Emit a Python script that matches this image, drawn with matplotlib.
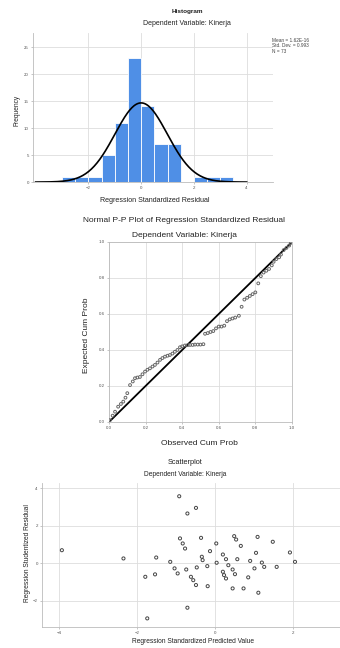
import numpy as np
import matplotlib
matplotlib.use('Agg')
import matplotlib.pyplot as plt

plt.rcParams['font.family'] = ['Liberation Sans', 'DejaVu Sans']

# histogram of standardized residuals (bin width 0.5)
bin_left = [-3.0, -2.5, -2.0, -1.5, -1.0, -0.5, 0.0, 0.5, 1.0, 1.5, 2.0, 2.5, 3.0]
bin_count = [1, 1, 1, 5, 11, 23, 14, 7, 7, 0, 1, 1, 1]
bin_width = 0.5
resid_mean = 0.0
resid_sd = 0.993

# normal P-P plot
pp_observed = [0.005, 0.02, 0.033, 0.05, 0.065, 0.078, 0.09, 0.10, 0.115, 0.13, 0.142, 0.155,
               0.169, 0.183, 0.197, 0.21, 0.224, 0.238, 0.251, 0.265, 0.279, 0.292, 0.306,
               0.32, 0.333, 0.347, 0.36, 0.374, 0.388, 0.40, 0.415, 0.43, 0.443, 0.457,
               0.47, 0.485, 0.50, 0.516, 0.525, 0.54, 0.555, 0.57, 0.585, 0.60, 0.615,
               0.63, 0.645, 0.66, 0.675, 0.69, 0.71, 0.725, 0.74, 0.755, 0.77, 0.785,
               0.80, 0.816, 0.83, 0.845, 0.86, 0.875, 0.89, 0.90, 0.915, 0.93, 0.94,
               0.955, 0.97, 0.985, 0.995]
pp_expected = [0.01, 0.035, 0.057, 0.085, 0.10, 0.113, 0.135, 0.16, 0.205, 0.225, 0.243, 0.247,
               0.25, 0.265, 0.28, 0.29, 0.298, 0.308, 0.317, 0.33, 0.345, 0.355, 0.363,
               0.368, 0.372, 0.38, 0.39, 0.40, 0.415, 0.42, 0.425, 0.427, 0.428, 0.428,
               0.43, 0.43, 0.43, 0.432, 0.49, 0.494, 0.50, 0.505, 0.52, 0.53, 0.53,
               0.535, 0.56, 0.57, 0.575, 0.58, 0.59, 0.64, 0.68, 0.69, 0.70, 0.71,
               0.72, 0.77, 0.81, 0.83, 0.84, 0.85, 0.87, 0.89, 0.905, 0.915, 0.93,
               0.955, 0.967, 0.98, 0.995]

# scatterplot: standardized predicted vs studentized residual
pred = [-3.93, -2.35, -0.92, -0.49, -0.71, -0.90, -0.36, -0.83, -0.77, -0.13, 0.03,
        -1.51, -1.15, -0.34, -0.32, -0.20, 0.04, -0.47, -0.74, -1.04, -0.96, -1.54,
        -1.79, -0.62, -0.56, -0.49, -0.19, -0.71, -1.74,
        0.49, 1.09, 0.54, 0.66, 1.48, 0.20, 1.05, 1.92, 0.28, 0.57, 0.90, 1.20, 2.05,
        0.34, 0.45, 1.01, 1.26, 1.58, 0.20, 0.23, 0.51, 0.28, 0.85, 0.45, 0.73, 1.11]
resid = [0.69, 0.25, 3.57, 2.95, 2.65, 1.32, 1.35, 1.05, 0.78, 0.64, 1.05,
         0.30, 0.07, 0.34, 0.16, -0.16, 0.02, -0.23, -0.34, -0.28, -0.55, -0.60,
         -0.73, -0.73, -0.91, -1.17, -1.23, -2.38, -2.95,
         1.44, 1.40, 1.26, 0.92, 1.14, 0.46, 0.55, 0.57, 0.21, 0.21, 0.12, 0.03, 0.07,
         -0.11, -0.34, -0.28, -0.20, -0.20, -0.46, -0.64, -0.59, -0.82, -0.76, -1.35,
         -1.35, -1.58]

grid_c = '#dddddd'
txt = '#222222'
tick_fs = 3.2


def style(ax):
    for s in ax.spines.values():
        s.set_color('#bbbbbb')
        s.set_linewidth(0.6)
    ax.tick_params(labelsize=tick_fs, length=1.5, width=0.4, colors='#999999',
                   labelcolor='#555555', pad=1.5)
    ax.grid(True, color=grid_c, linewidth=0.6)
    ax.set_axisbelow(True)


fig = plt.figure(figsize=(3.4, 6.48), dpi=100)

# ---- histogram
ax1 = fig.add_axes([0.097, 0.719, 0.706, 0.230])
ax1.bar(bin_left, bin_count, width=bin_width, align='edge', color='#4F8FE6',
        edgecolor='white', linewidth=0.6)
n_total = sum(bin_count)
xs = np.linspace(-4.0, 4.0, 300)
curve = n_total * bin_width / (resid_sd * np.sqrt(2 * np.pi)) * np.exp(-0.5 * ((xs - resid_mean) / resid_sd) ** 2)
ax1.plot(xs, curve, color='black', linewidth=1.2)
ax1.set_xlim(-4.1, 5.0)
ax1.set_ylim(0, 27.6)
ax1.set_xticks([-2, 0, 2, 4])
ax1.set_yticks([0, 5, 10, 15, 20, 25])
style(ax1)
for s in ['top', 'right']:
    ax1.spines[s].set_visible(False)

fig.text(0.55, 0.9815, 'Histogram', ha='center', va='center', fontsize=4.6,
         fontweight='bold', color=txt)
fig.text(0.55, 0.963, 'Dependent Variable: Kinerja', ha='center', va='center',
         fontsize=5.0, color=txt)
fig.text(0.456, 0.691, 'Regression Standardized Residual', ha='center', va='center',
         fontsize=5.1, color=txt)
fig.text(0.05, 0.83, 'Frequency', ha='center', va='center', rotation=90,
         fontsize=4.8, color=txt)
fig.text(0.80, 0.942, 'Mean = 1.62E-16\nStd. Dev. = 0.993\nN = %d' % n_total,
         ha='left', va='top', fontsize=3.4, color='#444444', linespacing=1.15)

# ---- P-P plot
ax2 = fig.add_axes([0.3206, 0.3488, 0.538, 0.2778])
ax2.plot([0, 1], [0, 1], color='black', linewidth=1.3, zorder=2)
ax2.scatter(pp_observed, pp_expected, s=4, facecolors='none', edgecolors='#666666',
            linewidths=0.7, zorder=3)
ax2.set_xlim(0, 1)
ax2.set_ylim(0, 1)
ticks = [0.0, 0.2, 0.4, 0.6, 0.8, 1.0]
ax2.set_xticks(ticks)
ax2.set_yticks(ticks)
ax2.set_xticklabels(['%.1f' % t for t in ticks])
ax2.set_yticklabels(['%.1f' % t for t in ticks])
style(ax2)

fig.text(0.541, 0.660, 'Normal P-P Plot of Regression Standardized Residual',
         ha='center', va='center', fontsize=6.0, color=txt)
fig.text(0.541, 0.636, 'Dependent Variable: Kinerja', ha='center', va='center',
         fontsize=6.0, color=txt)
fig.text(0.588, 0.316, 'Observed Cum Prob', ha='center', va='center',
         fontsize=6.0, color=txt)
fig.text(0.253, 0.483, 'Expected Cum Prob', ha='center', va='center', rotation=90,
         fontsize=6.0, color=txt)

# ---- scatterplot
ax3 = fig.add_axes([0.1235, 0.0324, 0.876, 0.222])
ax3.scatter(pred, resid, s=5, facecolors='none', edgecolors='#444444', linewidths=0.7)
ax3.set_xlim(-4.44, 3.2)
ax3.set_ylim(-3.41, 4.27)
ax3.set_xticks([-4, -2, 0, 2])
ax3.set_yticks([-2, 0, 2, 4])
style(ax3)
for s in ['top', 'right']:
    ax3.spines[s].set_visible(False)

fig.text(0.544, 0.2855, 'Scatterplot', ha='center', va='center', fontsize=5.3,
         color=txt)
fig.text(0.544, 0.2685, 'Dependent Variable: Kinerja', ha='center', va='center',
         fontsize=4.8, color=txt)
fig.text(0.568, 0.010, 'Regression Standardized Predicted Value', ha='center',
         va='center', fontsize=4.8, color=txt)
fig.text(0.082, 0.147, 'Regression Studentized Residual', ha='center', va='center',
         rotation=90, fontsize=4.8, color=txt)

fig.savefig('out.png', dpi=100)
